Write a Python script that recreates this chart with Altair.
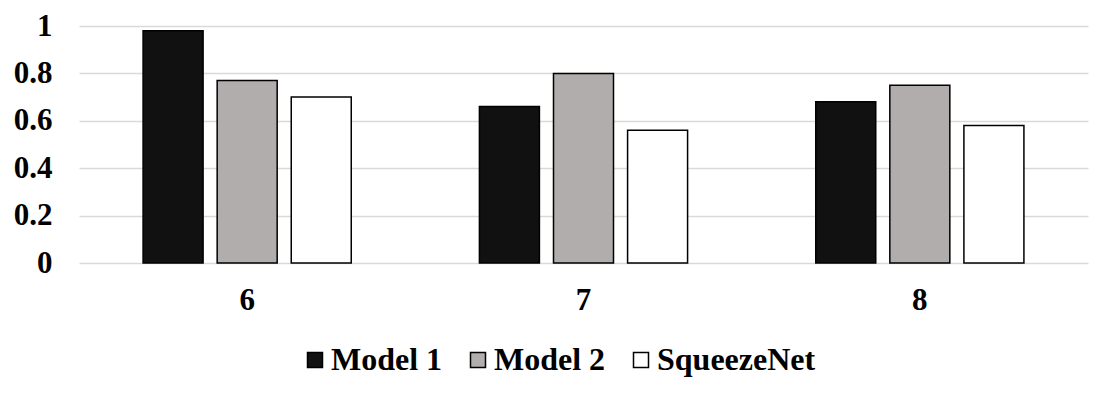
import altair as alt
import pandas as pd

groups = ["6", "7", "8"]
series = ["Model 1", "Model 2", "SqueezeNet"]
model1 = [0.98, 0.66, 0.68]
model2 = [0.77, 0.80, 0.75]
squeezenet = [0.70, 0.56, 0.58]
colors = ["#111111", "#b0adac", "#ffffff"]
y_ticks = [0, 0.2, 0.4, 0.6, 0.8, 1]

rows = []
for i, g in enumerate(groups):
    for s, vals in zip(series, [model1, model2, squeezenet]):
        rows.append({"group": g, "series": s, "value": vals[i]})
df = pd.DataFrame(rows)

FONT = "Liberation Serif"

chart = alt.Chart(df).mark_bar(stroke="black", strokeWidth=1.5).encode(
    x=alt.X("group:N", sort=groups, title=None,
            scale=alt.Scale(paddingInner=0, paddingOuter=0),
            axis=alt.Axis(labelAngle=0, labelFont=FONT, labelFontSize=31,
                          labelFontWeight="bold", labelColor="black",
                          labelPadding=22, ticks=False, domain=False, grid=False)),
    xOffset=alt.XOffset("series:N", sort=series,
                        scale=alt.Scale(paddingInner=0.19, paddingOuter=0.865)),
    y=alt.Y("value:Q", title=None,
            scale=alt.Scale(domain=[0, 1], nice=False),
            axis=alt.Axis(values=y_ticks, format="~g", labelFont=FONT, labelFontSize=31,
                          labelFontWeight="bold", labelColor="black",
                          labelPadding=27, ticks=False, domain=False,
                          gridColor="#d9d9d9", gridWidth=1.5)),
    fill=alt.Fill("series:N", sort=series,
                  scale=alt.Scale(domain=series, range=colors),
                  legend=alt.Legend(orient="none", direction="horizontal", title=None,
                                    legendX=220, legendY=318,
                                    symbolType="square", symbolSize=225,
                                    symbolStrokeColor="black", symbolStrokeWidth=1.5,
                                    labelFont=FONT, labelFontSize=32,
                                    labelFontWeight="bold", labelColor="black",
                                    labelLimit=400,
                                    columnPadding=19, labelOffset=0)),
).properties(
    width=1009, height=237,
    padding={"left": 71, "top": 18, "right": 10, "bottom": 122},
    autosize=alt.AutoSizeParams(type="none"),
).configure_view(stroke=None)

chart.save("out.html", embed_options={"renderer": "svg", "actions": False})
